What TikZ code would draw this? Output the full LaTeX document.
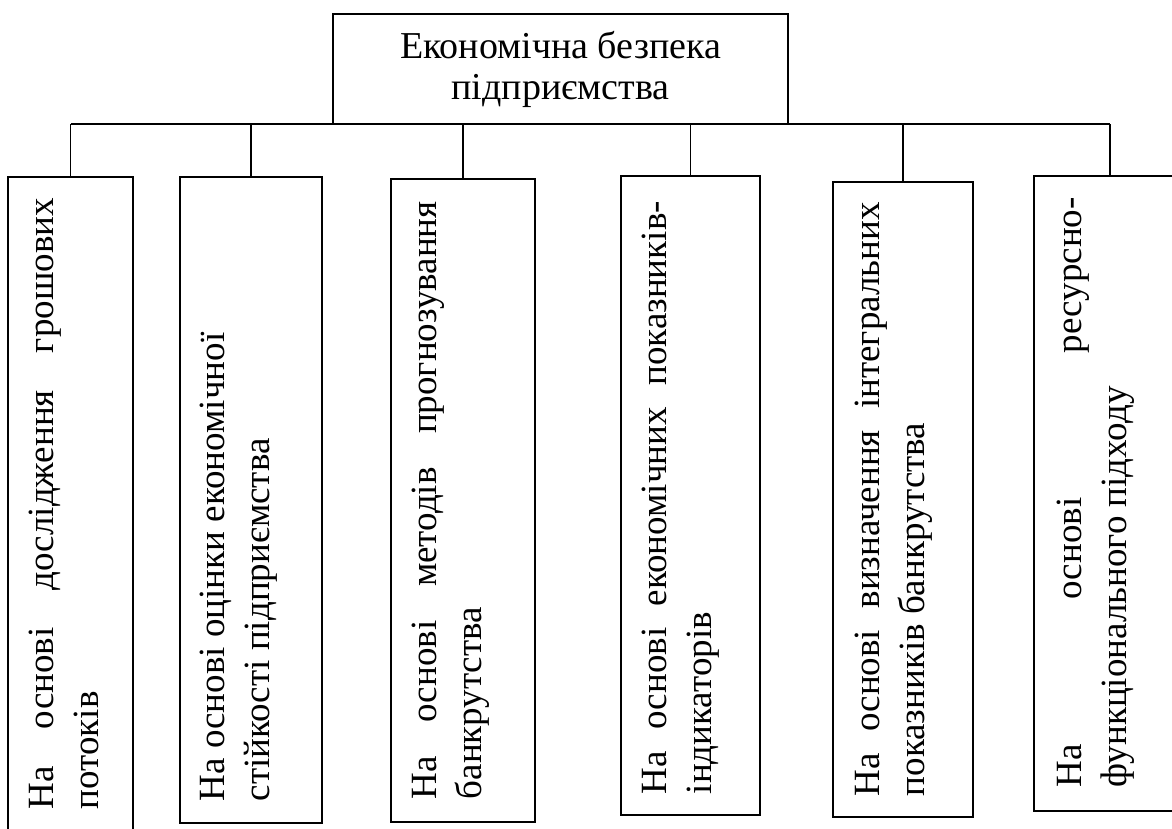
\documentclass[tikz,border=0pt]{standalone}
\usepackage{fontspec}
\setmainfont{Liberation Serif}
\begin{document}
\begin{tikzpicture}[x=1pt,y=-1pt,line width=1.6pt,
  catbox/.style={draw, inner sep=0pt, outer sep=0pt},
  txt/.style={rotate=90, anchor=north west, inner sep=0pt, align=left, font=\fontsize{37}{45}\selectfont}]
\useasboundingbox (0,0) rectangle (1172,829);
% top box
\node[catbox, minimum width=455pt, minimum height=110pt, align=center,
      font=\fontsize{38}{41}\selectfont] (top) at (560.5,69) {Економічна безпека\\підприємства};
% category boxes
\node[catbox, minimum width=125pt, minimum height=663pt] (b1) at (70.5,508.5) {};
\node[catbox, minimum width=142pt, minimum height=646pt] (b2) at (251,500) {};
\node[catbox, minimum width=144pt, minimum height=643pt] (b3) at (463,500.5) {};
\node[catbox, minimum width=139pt, minimum height=639pt] (b4) at (690.5,495.5) {};
\node[catbox, minimum width=140pt, minimum height=635pt] (b5) at (903,499.5) {};
\node[catbox, minimum width=152pt, minimum height=635pt] (b6) at (1110,493.5) {};
% texts
\node[txt] (t1) at (28,810) {\makebox[611pt][s]{На основі дослідження грошових}\\потоків};
\node[txt] (t2) at (199,802) {На основі оцінки економічної\\стійкості підприємства};
\node[txt] (t3) at (411,800) {\makebox[598pt][s]{На основі методів прогнозування}\\банкрутства};
\node[txt] (t4) at (641,795) {\makebox[593pt][s]{На основі економічних показників-}\\індикаторів};
\node[txt] (t5) at (854,797) {\makebox[594pt][s]{На основі визначення інтегральних}\\показників банкрутства};
\node[txt] (t6) at (1056,788) {\makebox[590pt][s]{На основі ресурсно-}\\функціонального підходу};
% bus and connectors
\coordinate (busL) at (b1.north |- top.south);
\coordinate (busR) at (b6.north |- top.south);
\draw (busL) -- (busR);
\foreach \b in {b1,b2,b3,b4,b5,b6}
  \draw (\b.north) -- (\b.north |- busL);
\end{tikzpicture}
\end{document}
